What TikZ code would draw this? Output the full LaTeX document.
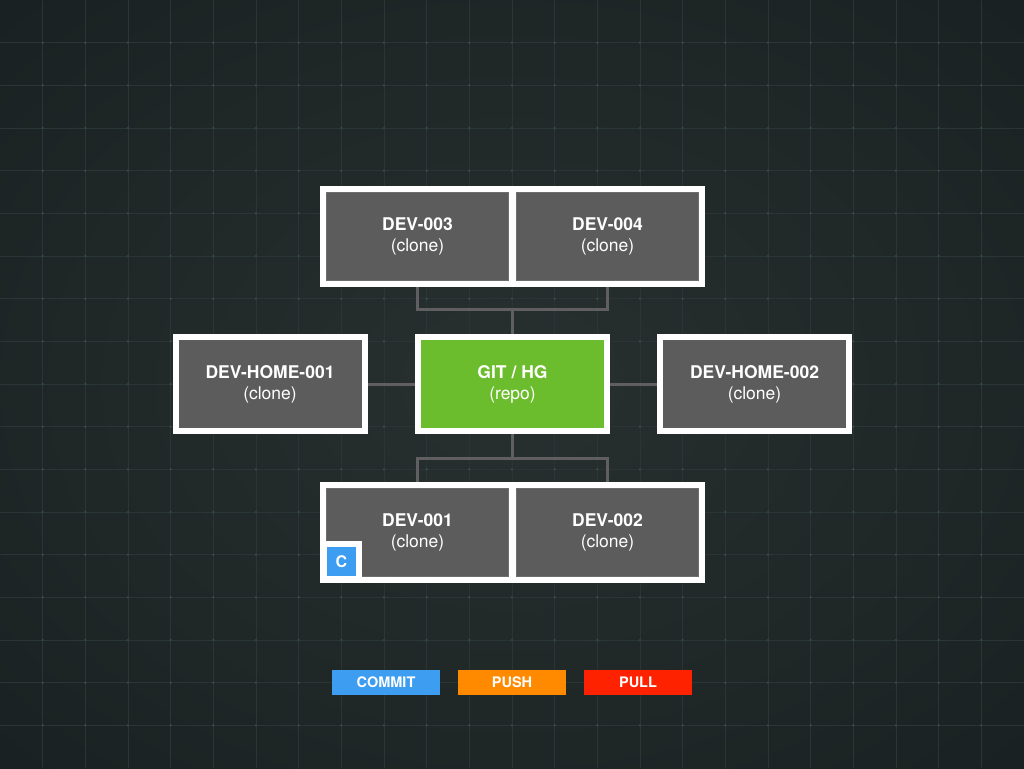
\documentclass[tikz,border=0pt]{standalone}
\usepackage{fontspec}
\setmainfont{TeX Gyre Heros}
\pgfdeclarelayer{gridlayer}
\pgfdeclarelayer{wires}
\pgfsetlayers{gridlayer,wires,main}
\definecolor{bgin}{HTML}{28312F}
\definecolor{bgout}{HTML}{1A2122}
\definecolor{gridc}{HTML}{2A3535}
\definecolor{dotc}{HTML}{384A4E}
\definecolor{boxgray}{HTML}{5C5C5C}
\definecolor{boxedge}{HTML}{6E6E6E}
\definecolor{repogreen}{HTML}{6CBD2D}
\definecolor{wiregray}{HTML}{5F5F5F}
\definecolor{commitblue}{HTML}{3D9DF0}
\definecolor{pushorange}{HTML}{FF8A00}
\definecolor{pullred}{HTML}{FF2200}
\begin{document}
\begin{tikzpicture}[x=1pt,y=-1pt,
  frame/.style={fill=white, draw=none, inner sep=0pt, minimum width=385pt, minimum height=101pt},
  clone/.style={fill=boxgray, draw=boxedge, line width=1pt, minimum width=182pt, minimum height=88pt,
    align=center, text=white, inner sep=0pt, font=\fontsize{17.5}{21}\selectfont},
  solo/.style={fill=boxgray, draw=white, line width=6pt, minimum width=189pt, minimum height=94pt,
    align=center, text=white, inner sep=0pt, font=\fontsize{17.5}{21}\selectfont},
  wire/.style={draw=wiregray, line width=3pt},
  legendbox/.style={minimum width=108pt, minimum height=25pt, inner sep=0pt, text=white,
    font=\bfseries\fontsize{14.5}{16}\selectfont}
]
\useasboundingbox (0,0) rectangle (1024,768);
\begin{pgfonlayer}{gridlayer}
  \shade[inner color=bgin, outer color=bgout] (-200,-150) rectangle (1224,918);
  \foreach \i in {1,...,23} {
    \draw[gridc, line width=1pt] (\i*42.6667,0) -- (\i*42.6667,768);
  }
  \foreach \j in {1,...,17} {
    \draw[gridc, line width=1pt] (0,\j*42.6667) -- (1024,\j*42.6667);
  }
  \foreach \i in {1,...,23} {
    \foreach \j in {1,...,17} {
      \fill[dotc] (\i*42.6667,\j*42.6667) circle (1.2pt);
    }
  }
\end{pgfonlayer}

% top pair
\node[frame] (topframe) at (512.5,236.5) {};
\node[clone] (dev3) at (417.5,236.5) {\textbf{DEV-003}\\(clone)};
\node[clone] (dev4) at (607.5,236.5) {\textbf{DEV-004}\\(clone)};

% middle row
\node[solo] (home1) at (270,384) {\textbf{DEV-HOME-001}\\(clone)};
\node[solo, fill=repogreen] (repo) at (512.5,384) {\textbf{GIT / HG}\\(repo)};
\node[solo] (home2) at (754.5,384) {\textbf{DEV-HOME-002}\\(clone)};

% bottom pair
\node[frame] (botframe) at (512.5,532.5) {};
\node[clone] (dev1) at (417.5,532.5) {\textbf{DEV-001}\\(clone)};
\node[clone] (dev2) at (607.5,532.5) {\textbf{DEV-002}\\(clone)};

% commit badge
\node[fill=white, minimum size=42pt, inner sep=0pt] (badgeframe) at (341,562) {};
\node[fill=commitblue, minimum size=29pt, inner sep=0pt, text=white,
      font=\bfseries\fontsize{16}{18}\selectfont] (badge) at (341.5,561.5) {C};

% connectors
\coordinate (topjoin) at (512.5,309);
\coordinate (botjoin) at (512.5,458);
\begin{pgfonlayer}{wires}
  \draw[wire] (dev3.south) |- (topjoin) -| (dev4.south);
  \draw[wire] (topjoin) -- (repo.north);
  \draw[wire] (dev1.north) |- (botjoin) -| (dev2.north);
  \draw[wire] (botjoin) -- (repo.south);
  \draw[wire] (home1.east) -- (repo.west);
  \draw[wire] (repo.east) -- (home2.west);
\end{pgfonlayer}

% legend
\node[legendbox, fill=commitblue] (lcommit) at (386,682.5) {COMMIT};
\node[legendbox, fill=pushorange] (lpush) at (512,682.5) {PUSH};
\node[legendbox, fill=pullred] (lpull) at (638,682.5) {PULL};
\end{tikzpicture}
\end{document}
